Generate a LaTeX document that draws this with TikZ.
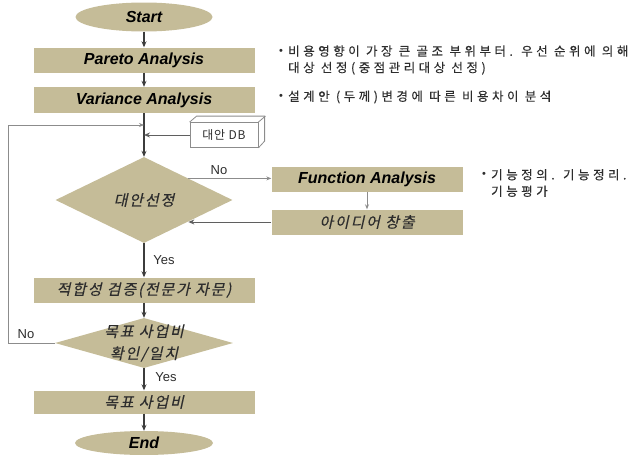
\documentclass[tikz,border=0pt]{standalone}
\usepackage{fontspec}
\setmainfont{Liberation Sans}
\newfontfamily\kr[LetterSpace=6]{Noto Sans CJK KR}
\newfontfamily\krit[FakeSlant=0.22,LetterSpace=12,FakeBold=0.3]{Noto Sans CJK KR}
\newfontfamily\krsp[LetterSpace=28,FakeBold=0.3]{Noto Sans CJK KR}
\usetikzlibrary{shapes.geometric,arrows.meta}
\definecolor{boxtan}{RGB}{197,188,152}
\definecolor{linedark}{RGB}{60,60,60}
\definecolor{linemid}{RGB}{95,95,95}
\definecolor{linegray}{RGB}{140,140,140}
\definecolor{txtgray}{RGB}{45,45,45}
\begin{document}
\begin{tikzpicture}[x=1pt,y=-1pt,
  box/.style={rectangle,fill=boxtan,draw=none,inner sep=0pt,minimum width=221pt,minimum height=25pt},
  term/.style={ellipse,fill=boxtan,draw=none,inner sep=0pt},
  dia/.style={diamond,fill=boxtan,draw=none,inner sep=0pt,align=center},
  en/.style={font=\fontsize{16}{18}\selectfont\bfseries\itshape},
  ko/.style={font=\fontsize{15}{19}\selectfont\krit,text=txtgray},
  mainar/.style={draw=linedark,line width=1.2pt,-{Stealth[length=6pt,width=5pt]}},
  midar/.style={draw=linemid,line width=1pt,-{Stealth[length=6pt,width=5pt]}},
  thinar/.style={draw=linegray,line width=0.8pt,-{Stealth[length=5pt,width=4pt]}},
  thinln/.style={draw=linegray,line width=0.8pt},
  lbl/.style={font=\fontsize{13}{15}\selectfont,text=txtgray},
  note/.style={font=\fontsize{12.5}{16.5}\selectfont\krsp,text=txtgray,align=left,inner sep=0pt},
  bul/.style={font=\fontsize{11}{13}\selectfont,text=txtgray,inner sep=0pt}]
\useasboundingbox (0,0) rectangle (643,455);
% main nodes
\node[term,minimum width=137pt,minimum height=29pt,en] (start) at (144,17) {Start};
\node[box,en] (par) at (144,60) {Pareto Analysis};
\node[box,minimum height=26pt,en] (var) at (144,100) {Variance Analysis};
\node[draw=linegray,line width=0.8pt,fill=white,minimum width=68pt,minimum height=25pt,inner sep=0pt,font=\fontsize{12}{14}\selectfont\kr,text=txtgray] (db) at (224,135) {대안 DB};
\draw[thinln] (db.north west) -- ++(7,-6) -- ++(68,0) -- ++(0,25) -- (db.south east);
\draw[thinln] (db.north east) -- ++(7,-6);
\node[dia,minimum width=177pt,minimum height=86pt,ko] (d1) at (144,200) {대안선정};
\node[box,minimum width=191pt,en] (fa) at (367,179) {Function Analysis};
\node[box,minimum width=191pt,ko] (idea) at (367,222) {아이디어 창출};
\node[box,ko] (chk) at (144,290) {적합성 검증(전문가 자문)};
\node[dia,minimum width=178pt,minimum height=50pt] (d2) at (144,343) {};
\node[ko,align=center,inner sep=0pt,font=\fontsize{15}{22}\selectfont\krit] (d2t) at (d2.center) {목표 사업비\\확인/일치};
\node[box,minimum height=23pt,ko] (tgt) at (144,402) {목표 사업비};
\node[term,minimum width=138pt,minimum height=24pt,en] (end) at (144,443) {End};
% connectors
\draw[mainar] (start) -- (par);
\draw[mainar] (par) -- (var);
\draw[mainar] (var) -- (d1);
\draw[midar] (db.west) -- (db.west -| var.south);
\draw[thinar] (d1.north east) -- (d1.north east -| fa.west);
\draw[thinar] (fa) -- (idea);
\draw[midar] (idea.west) -- (idea.west -| d1.south east);
\draw[mainar] (d1) -- (chk);
\draw[mainar] (chk) -- (d2);
\draw[mainar] (d2) -- (tgt);
\draw[mainar] (tgt) -- (end);
\coordinate (lc) at (8,125);
\coordinate (jn) at (144,125);
\draw[thinar] (d2.west) -| (lc) -- (jn);
% labels
\node[lbl] (no1) at (219,170) {No};
\node[lbl] (yes1) at (164,260) {Yes};
\node[lbl] (no2) at (26,334) {No};
\node[lbl] (yes2) at (166,377) {Yes};
% notes
\node[bul] (b1) at (281,52) {•};
\node[note,anchor=west] (t1) at (288,60) {비용영향이 가장 큰 골조 부위부터. 우선 순위에 의해\\대상 선정(중점관리대상 선정)};
\node[bul] (b2) at (281,97) {•};
\node[note,anchor=west] (t2) at (288,97) {설계안 (두께)변경에 따른 비용차이 분석};
\node[bul] (b3) at (484,175) {•};
\node[note,anchor=west] (t3) at (491,183) {기능정의. 기능정리.\\기능평가};
\end{tikzpicture}
\end{document}
